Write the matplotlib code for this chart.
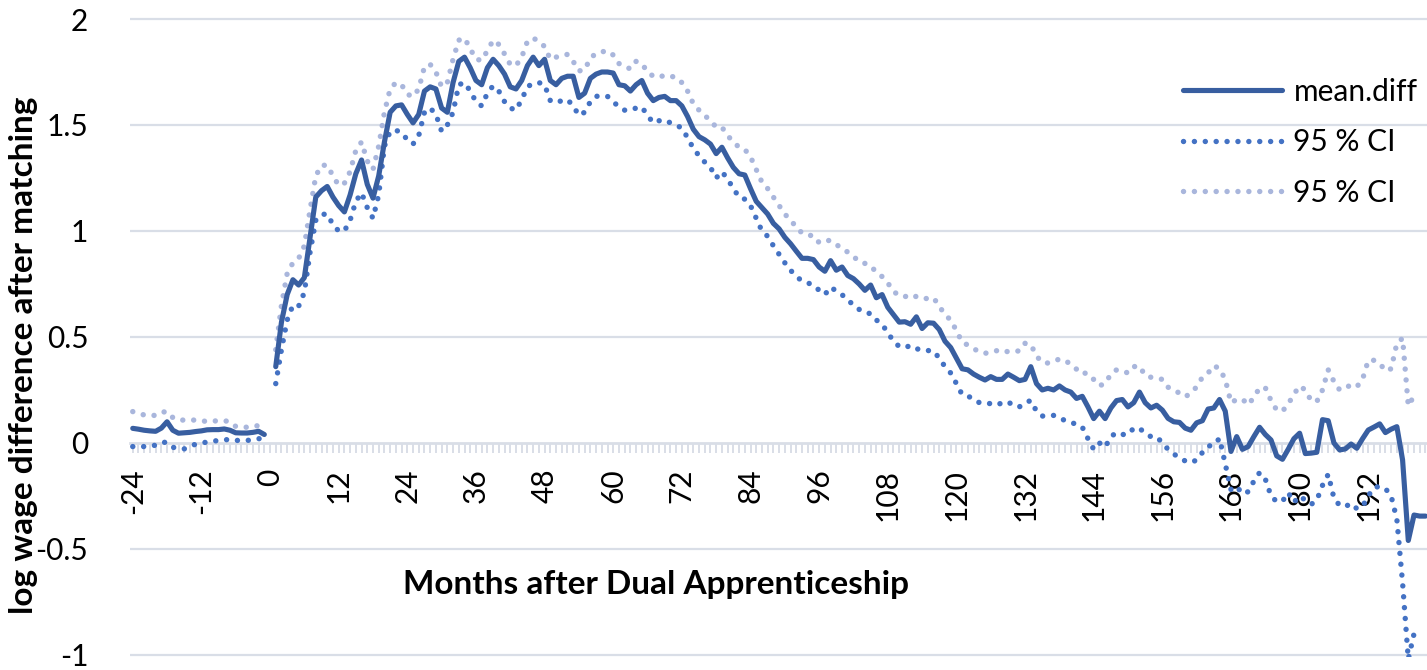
import matplotlib
matplotlib.use("Agg")
import matplotlib.pyplot as plt
import numpy as np

plt.rcParams['font.family'] = ['Lato', 'DejaVu Sans']

# months -24..-1 (before), month 0 has no value, months 1.. (after)
months_before = list(range(-24, 0))
mean_before = [0.069, 0.065, 0.06, 0.057, 0.055, 0.07, 0.10, 0.06, 0.046, 0.048,
               0.05, 0.054, 0.057, 0.062, 0.063, 0.063, 0.066, 0.06, 0.048, 0.047,
               0.047, 0.05, 0.055, 0.04]
lower_before = [-0.017, -0.017, -0.017, -0.017, -0.01, 0.003, 0.003, -0.02, -0.028, -0.028,
                -0.015, -0.006, 0.0, 0.004, 0.008, 0.012, 0.015, 0.016, 0.012, 0.012,
                0.012, 0.015, 0.02, 0.022]
upper_before = [0.148, 0.14, 0.132, 0.13, 0.13, 0.145, 0.148, 0.12, 0.108, 0.108,
                0.108, 0.108, 0.105, 0.101, 0.103, 0.105, 0.105, 0.10, 0.078, 0.076,
                0.074, 0.078, 0.082, 0.08]

mean_after = [
    0.36, 0.57, 0.70, 0.77, 0.745, 0.78, 0.97, 1.16, 1.19, 1.21,
    1.16, 1.12, 1.09, 1.17, 1.27, 1.335, 1.22, 1.155, 1.26, 1.42,
    1.56, 1.59, 1.595, 1.55, 1.51, 1.55, 1.66, 1.68, 1.67, 1.58,
    1.56, 1.70, 1.80, 1.82, 1.77, 1.71, 1.69, 1.77, 1.81, 1.78,
    1.74, 1.68, 1.67, 1.71, 1.78, 1.82, 1.78, 1.81, 1.71, 1.69,
    1.72, 1.73, 1.73, 1.63, 1.65, 1.72, 1.74, 1.75, 1.75, 1.745,
    1.69, 1.685, 1.66, 1.69, 1.71, 1.65, 1.615, 1.63, 1.635, 1.615,
    1.615, 1.59, 1.54, 1.48, 1.445, 1.43, 1.41, 1.365, 1.395, 1.345,
    1.30, 1.27, 1.264, 1.20, 1.14, 1.11, 1.08, 1.036, 1.01, 0.97,
    0.94, 0.905, 0.871, 0.871, 0.865, 0.83, 0.81, 0.86, 0.815, 0.83,
    0.79, 0.775, 0.75, 0.72, 0.745, 0.685, 0.70, 0.64, 0.605, 0.57,
    0.572, 0.56, 0.595, 0.54, 0.567, 0.565, 0.535, 0.48, 0.45, 0.40,
    0.35, 0.345, 0.325, 0.31, 0.297, 0.313, 0.30, 0.30, 0.325, 0.31,
    0.294, 0.30, 0.36, 0.28, 0.25, 0.258, 0.25, 0.269, 0.25, 0.24,
    0.21, 0.22, 0.17, 0.115, 0.15, 0.115, 0.165, 0.20, 0.205, 0.17,
    0.19, 0.24, 0.19, 0.165, 0.178, 0.155, 0.116, 0.10, 0.097, 0.07,
    0.06, 0.095, 0.105, 0.16, 0.165, 0.205, 0.15, -0.04, 0.03, -0.03,
    -0.017, 0.03, 0.074, 0.04, 0.014, -0.061, -0.077, -0.03, 0.02, 0.046,
    -0.05, -0.048, -0.044, 0.11, 0.105, 0.0, -0.033, -0.028, -0.005, -0.025,
    0.02, 0.061, 0.075, 0.09, 0.049, 0.065, 0.077, -0.08, -0.46, -0.34,
    -0.345, -0.345]

lower_after = [
    0.28, 0.44, 0.58, 0.65, 0.645, 0.71, 0.90, 1.05, 1.078, 1.08,
    1.03, 1.0, 1.0, 1.05, 1.14, 1.18, 1.11, 1.06, 1.17, 1.40,
    1.47, 1.475, 1.465, 1.43, 1.41, 1.45, 1.56, 1.58, 1.55, 1.47,
    1.50, 1.56, 1.69, 1.70, 1.66, 1.61, 1.59, 1.65, 1.685, 1.66,
    1.61, 1.58, 1.57, 1.62, 1.68, 1.697, 1.70, 1.69, 1.615, 1.605,
    1.615, 1.62, 1.59, 1.545, 1.56, 1.61, 1.635, 1.638, 1.635, 1.61,
    1.585, 1.57, 1.57, 1.58, 1.585, 1.545, 1.51, 1.52, 1.524, 1.51,
    1.50, 1.485, 1.44, 1.39, 1.355, 1.325, 1.30, 1.25, 1.28, 1.245,
    1.20, 1.16, 1.15, 1.12, 1.06, 1.0, 0.975, 0.93, 0.89, 0.85,
    0.815, 0.785, 0.765, 0.755, 0.745, 0.72, 0.70, 0.735, 0.717, 0.70,
    0.67, 0.655, 0.63, 0.615, 0.61, 0.58, 0.56, 0.52, 0.48, 0.455,
    0.45, 0.46, 0.445, 0.437, 0.436, 0.434, 0.40, 0.36, 0.33, 0.28,
    0.228, 0.22, 0.21, 0.19, 0.19, 0.185, 0.178, 0.19, 0.195, 0.175,
    0.17, 0.19, 0.20, 0.15, 0.127, 0.127, 0.13, 0.12, 0.105, 0.095,
    0.09, 0.075, 0.02, -0.03, 0.0, -0.02, 0.03, 0.049, 0.04, 0.04,
    0.07, 0.07, 0.045, 0.03, 0.03, 0.0, -0.03, -0.052, -0.07, -0.085,
    -0.093, -0.08, -0.045, -0.015, -0.01, 0.022, -0.10, -0.22, -0.205, -0.24,
    -0.23, -0.18, -0.14, -0.17, -0.25, -0.277, -0.275, -0.234, -0.28, -0.25,
    -0.27, -0.29, -0.27, -0.20, -0.148, -0.26, -0.295, -0.30, -0.285, -0.31,
    -0.30, -0.25, -0.21, -0.205, -0.215, -0.25, -0.36, -0.66, -1.02, -0.90]

upper_after = [
    0.44, 0.65, 0.80, 0.85, 0.87, 0.93, 1.10, 1.26, 1.31, 1.31,
    1.26, 1.215, 1.225, 1.28, 1.38, 1.42, 1.33, 1.29, 1.40, 1.56,
    1.67, 1.70, 1.69, 1.645, 1.634, 1.67, 1.775, 1.786, 1.75, 1.68,
    1.70, 1.81, 1.90, 1.91, 1.86, 1.81, 1.805, 1.85, 1.90, 1.88,
    1.835, 1.785, 1.78, 1.82, 1.895, 1.91, 1.895, 1.87, 1.81, 1.82,
    1.828, 1.833, 1.80, 1.755, 1.76, 1.815, 1.838, 1.845, 1.85, 1.83,
    1.79, 1.775, 1.765, 1.80, 1.79, 1.75, 1.73, 1.725, 1.735, 1.73,
    1.725, 1.70, 1.66, 1.60, 1.57, 1.545, 1.52, 1.49, 1.49, 1.45,
    1.42, 1.395, 1.385, 1.35, 1.29, 1.23, 1.20, 1.16, 1.12, 1.08,
    1.05, 1.02, 0.99, 0.98, 0.978, 0.945, 0.955, 0.955, 0.935, 0.92,
    0.90, 0.88, 0.855, 0.847, 0.836, 0.805, 0.785, 0.755, 0.715, 0.695,
    0.69, 0.70, 0.69, 0.68, 0.682, 0.685, 0.645, 0.605, 0.58, 0.53,
    0.475, 0.462, 0.445, 0.43, 0.423, 0.428, 0.435, 0.439, 0.43, 0.43,
    0.435, 0.47, 0.465, 0.41, 0.38, 0.377, 0.385, 0.396, 0.39, 0.37,
    0.348, 0.348, 0.31, 0.30, 0.27, 0.28, 0.325, 0.345, 0.34, 0.33,
    0.36, 0.363, 0.318, 0.31, 0.305, 0.30, 0.263, 0.25, 0.235, 0.218,
    0.235, 0.265, 0.31, 0.33, 0.365, 0.35, 0.30, 0.19, 0.205, 0.207,
    0.18, 0.215, 0.26, 0.261, 0.20, 0.155, 0.15, 0.183, 0.23, 0.269,
    0.25, 0.20, 0.195, 0.25, 0.345, 0.29, 0.25, 0.26, 0.274, 0.265,
    0.30, 0.39, 0.39, 0.376, 0.34, 0.35, 0.47, 0.494, 0.175, 0.222]

months_mean_after = list(range(1, len(mean_after) + 1))
months_ci_after = list(range(1, len(upper_after) + 1))

# month 0 left empty -> gap in the lines
months_mean = months_before + [0] + months_mean_after
months_ci = months_before + [0] + months_ci_after
mean_diff = mean_before + [np.nan] + mean_after
ci_low = lower_before + [np.nan] + lower_after
ci_high = upper_before + [np.nan] + upper_after

tick_months = list(range(-24, 193, 12))
y_ticks = [-1, -0.5, 0, 0.5, 1, 1.5, 2]
y_labels = ['-1', '-0.5', '0', '0.5', '1', '1.5', '2']

c_mean = '#385EA0'
c_low = '#4472C4'
c_high = '#A9B6DC'
c_grid = '#D9DEE7'

fig = plt.figure(figsize=(14.27, 6.70), dpi=100)
ax = fig.add_axes([0.0911, 0.0193, 0.9089, 0.9555])

dots = (0, (0.01, 2.0))
ax.plot(months_mean, mean_diff, color=c_mean, lw=3.7, solid_capstyle='round',
        solid_joinstyle='round', label='mean.diff', zorder=4)
ax.plot(months_ci, ci_low, color=c_low, lw=3.9, linestyle=dots,
        dash_capstyle='round', label='95 % CI', zorder=3)
ax.plot(months_ci, ci_high, color=c_high, lw=3.9, linestyle=dots,
        dash_capstyle='round', label='95 % CI', zorder=2)

ax.set_xlim(-24.48, 202.27)
ax.set_ylim(-1.01, 2.01)

for v in y_ticks:
    if v != 0:
        ax.axhline(v, color=c_grid, lw=1.6, zorder=0)

for s in ['top', 'right', 'left']:
    ax.spines[s].set_visible(False)
ax.spines['bottom'].set_position(('data', 0))
ax.spines['bottom'].set_color(c_grid)
ax.spines['bottom'].set_linewidth(2)
ax.spines['bottom'].set_zorder(1)

ax.set_xticks(tick_months)
ax.set_xticklabels([str(m) for m in tick_months], rotation=90, fontsize=21.5)
ax.set_xticks(list(range(-24, 203)), minor=True)
ax.tick_params(axis='x', which='both', direction='out', length=7.5, width=1.4,
               color=c_grid, pad=11)

ax.set_yticks(y_ticks)
ax.set_yticklabels(y_labels, fontsize=21.5)
ax.tick_params(axis='y', length=0, pad=30)

fig.text(0.0165, 0.47, 'log wage difference after matching', rotation=90,
         ha='center', va='center', fontsize=24, fontweight='bold')
fig.text(0.46, 0.127, 'Months after Dual Apprenticeship', ha='center',
         va='center', fontsize=24, fontweight='bold')

ax.legend(loc='upper left', bbox_to_anchor=(0.829, 0.884),
          bbox_transform=fig.transFigure, frameon=False, fontsize=21.5,
          handlelength=3.3, handletextpad=0.4, labelspacing=0.75,
          borderpad=0, borderaxespad=0)

fig.savefig('out.png', dpi=100)
